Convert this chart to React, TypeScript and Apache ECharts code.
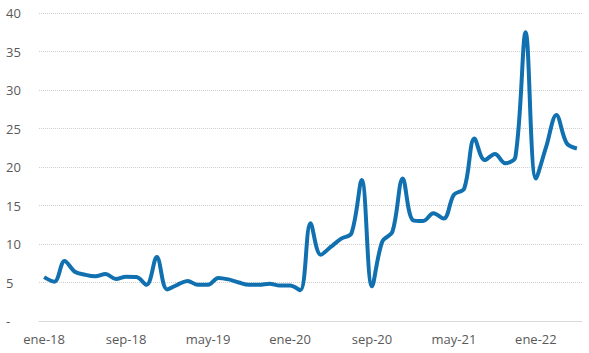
import React, { useEffect, useRef } from "react";
import * as echarts from "echarts";

const MONTHS = ["ene", "feb", "mar", "abr", "may", "jun", "jul", "ago", "sep", "oct", "nov", "dic"];
const categories: string[] = [];
for (let y = 18; y <= 22; y++) {
  for (let m = 0; m < 12; m++) {
    if (y === 22 && m > 4) break;
    categories.push(`${MONTHS[m]}-${y}`);
  }
}

const values = [
  5.7, 5.1, 7.8, 6.4, 6.0, 5.8, 6.1, 5.45, 5.75, 5.7, 4.7, 8.3,
  4.1, 4.7, 5.2, 4.7, 4.7, 5.6, 5.4, 5.0, 4.7, 4.7, 4.85, 4.6,
  4.6, 4.0, 12.7, 8.6, 9.65, 10.7, 11.4, 18.3, 4.5, 10.3, 11.6, 18.5,
  13.1, 13.0, 14.0, 13.3, 16.4, 17.2, 23.7, 20.9, 21.7, 20.5, 21.3, 37.5,
  18.5, 22.6, 26.75, 23.1, 22.4,
];

export default function App() {
  const ref = useRef<HTMLDivElement>(null);
  useEffect(() => {
    const chart = echarts.init(ref.current!, null, { renderer: "svg" });
    chart.setOption({
      animation: false,
      grid: { left: 39, right: 7, top: 13, bottom: 32 },
      xAxis: {
        type: "category",
        data: categories,
        boundaryGap: true,
        axisLine: { lineStyle: { color: "#d9d9d9", width: 1 } },
        axisTick: { show: false },
        axisLabel: {
          interval: 7,
          color: "#595959",
          fontSize: 13,
          fontFamily: "Open Sans",
          margin: 11,
        },
      },
      yAxis: {
        type: "value",
        min: 0,
        max: 40,
        interval: 5,
        axisLine: { show: false },
        axisTick: { show: false },
        splitLine: { lineStyle: { color: "#d0d0d0", type: "dotted", width: 1 } },
        axisLabel: {
          color: "#595959",
          fontSize: 13,
          fontFamily: "Open Sans",
          align: "left",
          margin: 33,
          formatter: (v: number) => (v === 0 ? "-" : String(v)),
        },
      },
      series: [
        {
          type: "line",
          data: values,
          smooth: 0.35,
          symbol: "none",
          lineStyle: { color: "#1070b0", width: 4 },
        },
      ],
    });
    return () => chart.dispose();
  }, []);
  return (
    <div
      ref={ref}
      style={{ position: "fixed", left: 0, top: 0, width: 589, height: 353, background: "#fff" }}
    />
  );
}
